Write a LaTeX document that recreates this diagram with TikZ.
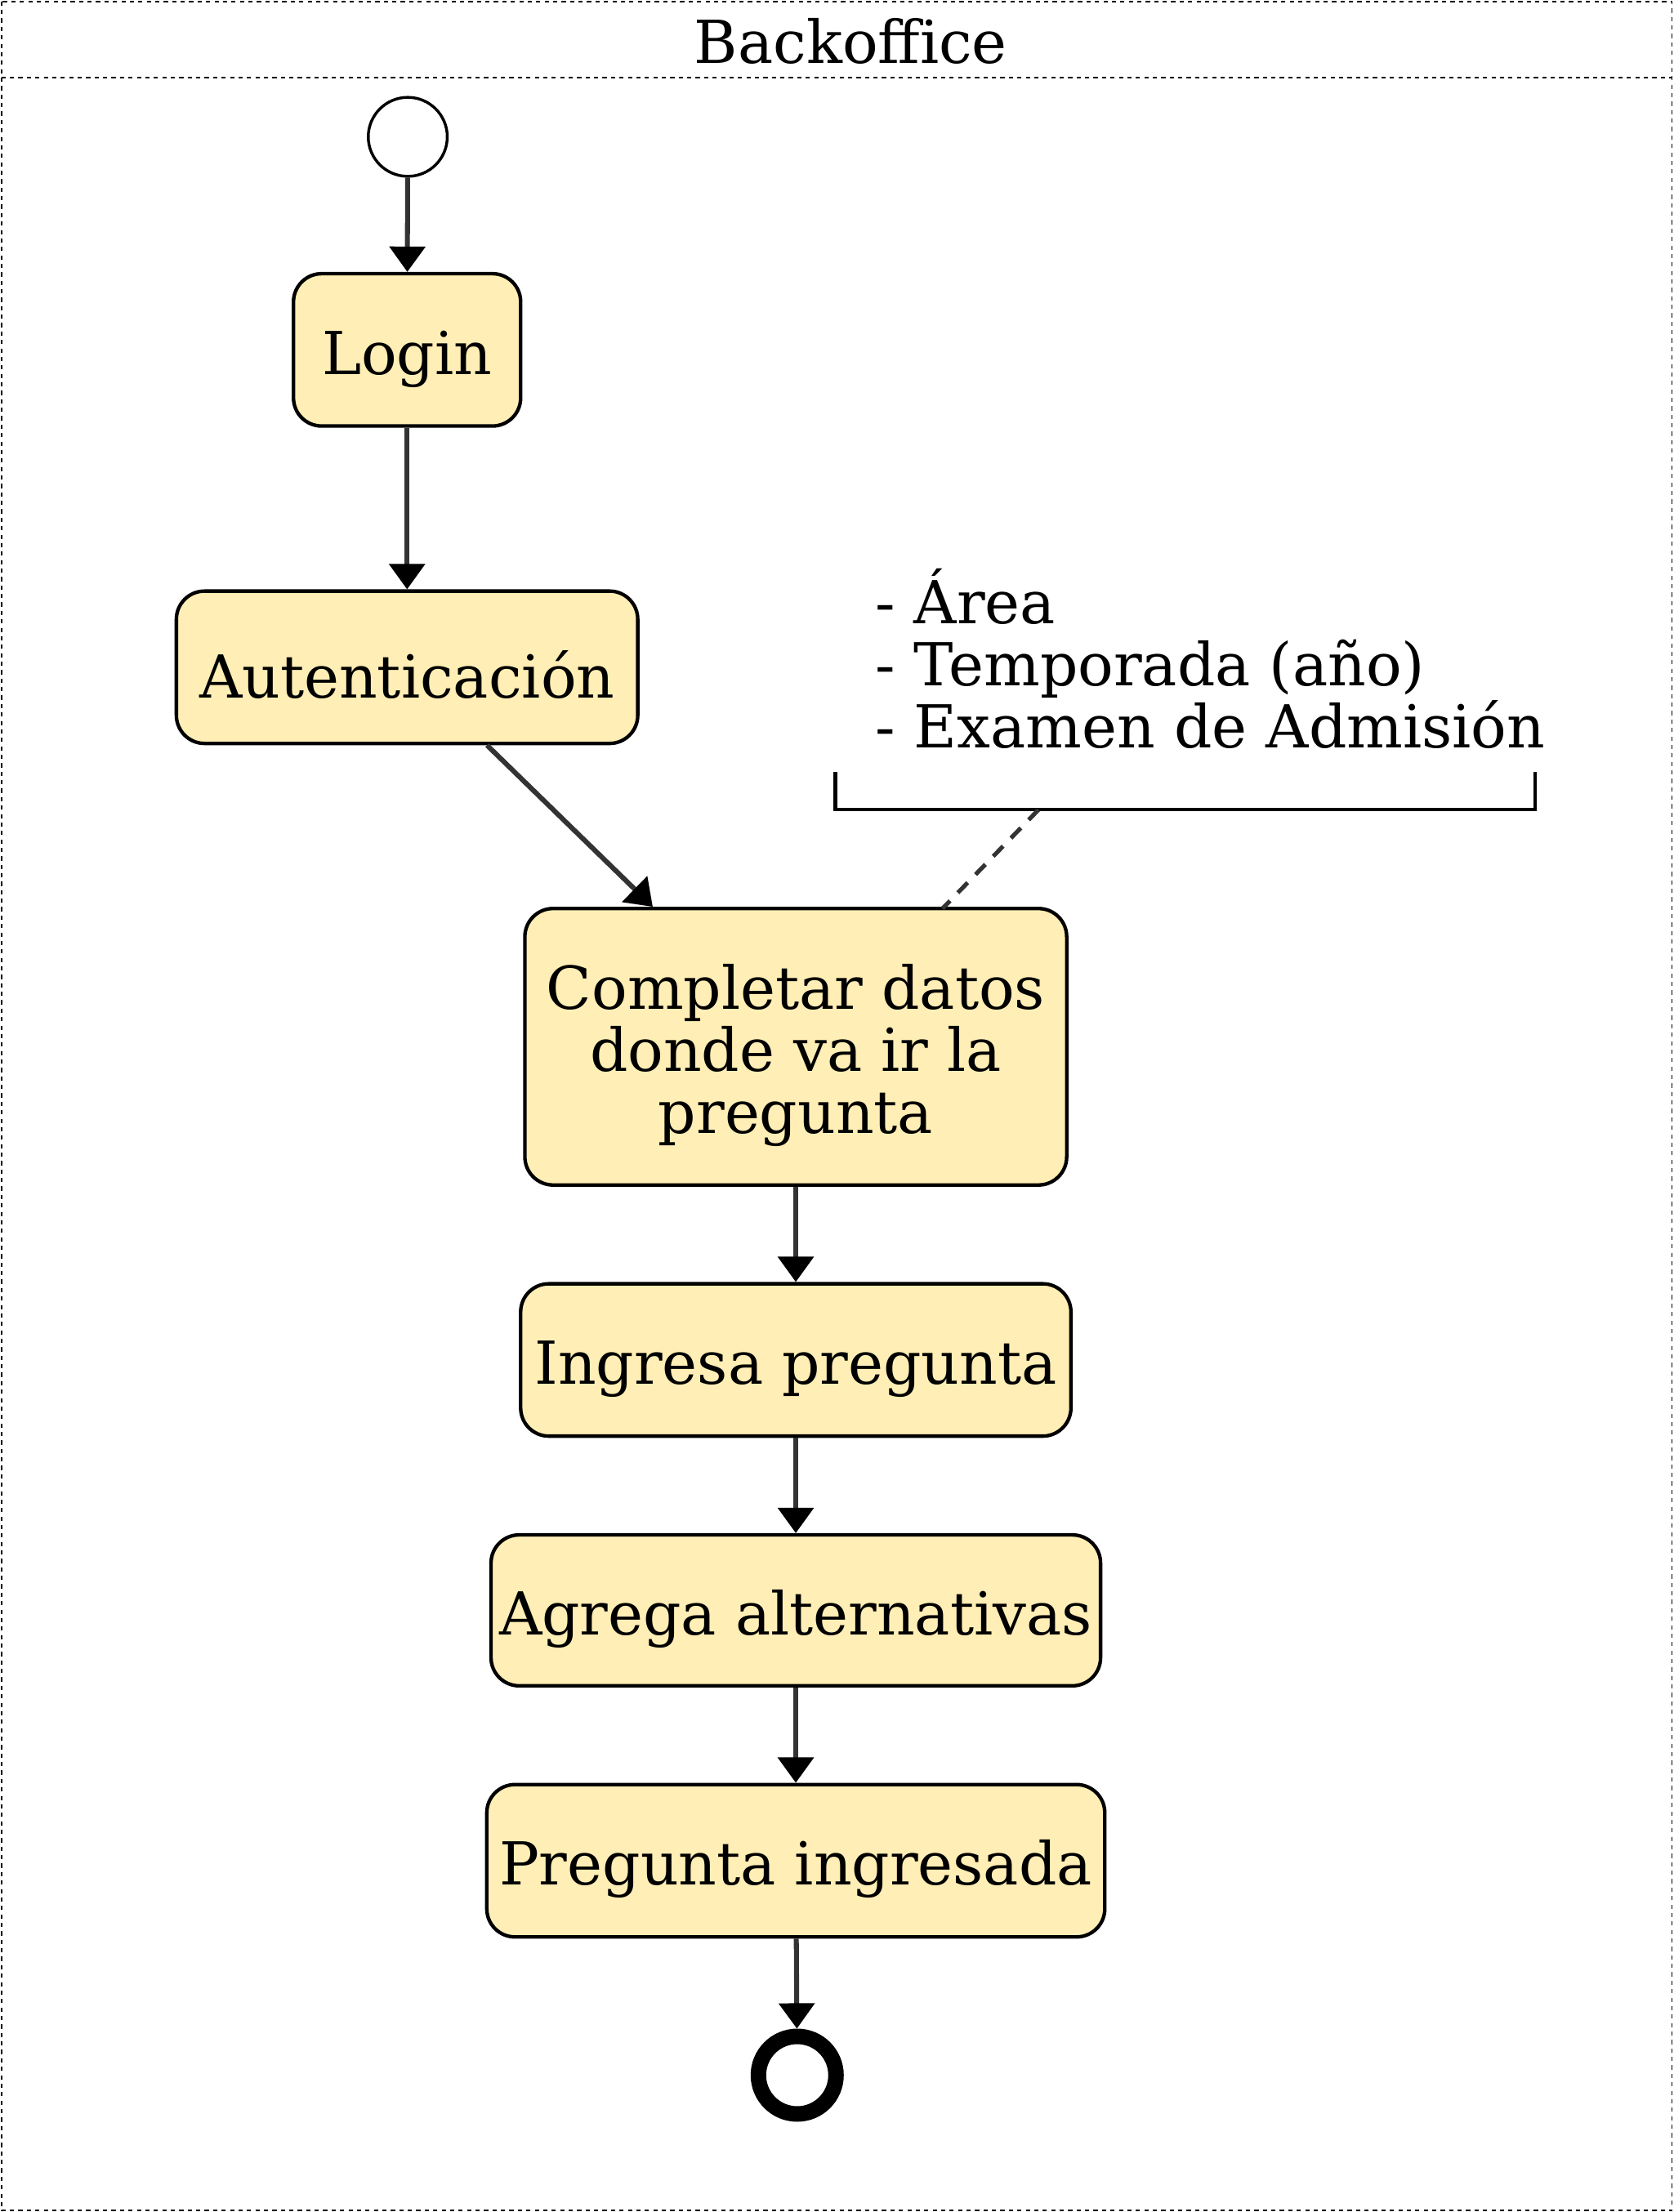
\documentclass[tikz,border=0pt]{standalone}
\usepackage{fontspec}
\setmainfont{DejaVu Serif}
\usetikzlibrary{arrows.meta}
\definecolor{actfill}{RGB}{255,238,181}
\definecolor{edgegray}{RGB}{51,51,51}
\begin{document}
\begin{tikzpicture}
		[x=1pt,y=-1pt,font=\fontsize{42}{44}\selectfont,
		act/.style={rectangle,draw,rounded corners=20pt,line width=2.5pt,fill=actfill,minimum height=108pt,align=center,inner sep=0pt,execute at begin node={\rule{0pt}{44pt}}},
		flow/.style={draw=edgegray,line width=3.5pt,-{Triangle[length=18pt,width=25pt,color=black]}}]
		\useasboundingbox (0,0) rectangle (1186,1568);
		\draw[dash pattern=on 3pt off 3pt,line width=1pt] (1,1) rectangle (1185,1567);
		\draw[dash pattern=on 3pt off 3pt,line width=1pt] (1,55) -- (1185,55);
		\node (Title) at (603,29) {Backoffice};
		\node (Start) [circle,draw,line width=2pt,minimum size=56pt,inner sep=0pt] at (289,97) {};
		\node (Login) [act,minimum width=161pt] at (288.5,248) {Login};
		\node (Auth) [act,minimum width=327pt] at (288.5,473) {Autenticación};
		\node (Datos) [act,minimum width=384pt,minimum height=196pt,execute at begin node={\rule{0pt}{132pt}}] at (564,742) {Completar datos\\donde va ir la\\pregunta};
		\node (Ingresa) [act,minimum width=390pt] at (564,964) {Ingresa pregunta};
		\node (Agrega) [act,minimum width=432pt,minimum height=107pt] at (564,1141.5) {Agrega alternativas};
		\node (Ingresada) [act,minimum width=438pt] at (564,1319) {Pregunta ingresada};
		\node (End) [circle,draw,line width=11pt,minimum size=55pt,inner sep=0pt] at (565,1471) {};
		% nota con los datos
		\node (Note) [anchor=west,align=left,inner sep=0pt] at (620,467) {- Área\\- Temporada (año)\\- Examen de Admisión};
		\coordinate (NoteFoot) at (736,574);
		\coordinate (DatosTop) at (668,644);
		\draw[line width=2.5pt] (592,547) -- (592,574) -- (1088,574) -- (1088,547);
		\draw[edgegray,line width=3pt,dash pattern=on 10pt off 8pt] (NoteFoot) -- (DatosTop);
		\draw[flow] (Start) -- (Login);
		\draw[flow] (Login) -- (Auth);
		\draw[flow] (Auth) -- (Datos);
		\draw[flow] (Datos) -- (Ingresa);
		\draw[flow] (Ingresa) -- (Agrega);
		\draw[flow] (Agrega) -- (Ingresada);
		\draw[flow] (Ingresada) -- (End);
	\end{tikzpicture}
\end{document}
